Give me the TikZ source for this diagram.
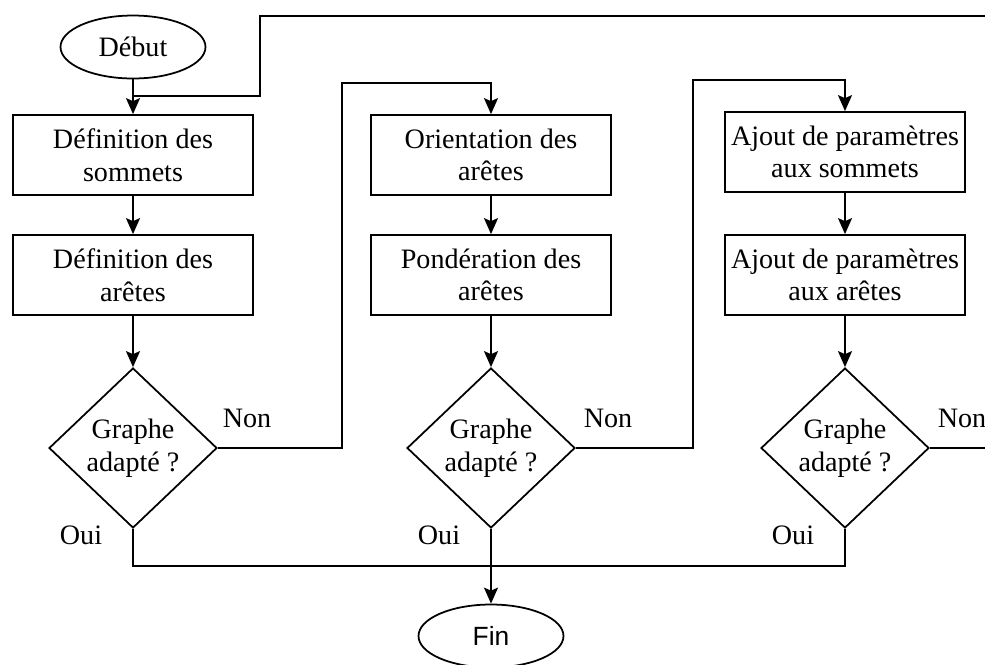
\documentclass[tikz,border=0pt]{standalone}
\usepackage{fontspec}
\setmainfont{Liberation Serif}
\newfontfamily\finfont{Liberation Sans}
\usetikzlibrary{shapes.geometric,arrows.meta}

\begin{document}
\begin{tikzpicture}[x=0.02cm, y=-0.02cm, line width=1pt,
		font=\fontsize{16}{18.5}\selectfont,
		boite/.style={draw, rectangle, minimum width=4.8cm, minimum height=1.6cm, inner sep=1pt, align=center},
		losange/.style={draw, diamond, minimum width=3.36cm, minimum height=3.2cm, inner sep=0pt, align=center},
		terminal/.style={draw, ellipse, minimum width=2.9cm, minimum height=1.26cm, inner sep=0pt},
		fleche/.style={-{Stealth[length=3.2mm, width=2.8mm, inset=0.6mm]}}]

		\useasboundingbox (0,0) rectangle (985,664);

		% colonne 1
		\node[terminal] (debut) at (133,47) {Début};
		\node[boite] (sommets) at (133,155) {Définition des\\sommets};
		\node[boite] (aretes) at (133,275) {Définition des\\arêtes};
		\node[losange] (test1) at (133,448) {Graphe\\adapté ?};

		% colonne 2
		\node[boite] (orient) at (491,155) {Orientation des\\arêtes};
		\node[boite] (ponder) at (491,275) {Pondération des\\arêtes};
		\node[losange] (test2) at (491,448) {Graphe\\adapté ?};
		\node[terminal, font=\finfont\fontsize{15}{18}\selectfont] (fin) at (491,636) {Fin};

		% colonne 3
		\node[boite] (parsom) at (845,152) {Ajout de paramètres\\aux sommets};
		\node[boite] (pararet) at (845,275) {Ajout de paramètres\\aux arêtes};
		\node[losange] (test3) at (845,448) {Graphe\\adapté ?};

		% etiquettes
		\node (non1) at (247,418) {Non};
		\node (non2) at (608,418) {Non};
		\node (non3) at (962,418) {Non};
		\node (oui1) at (81,535) {Oui};
		\node (oui2) at (439,535) {Oui};
		\node (oui3) at (793,535) {Oui};

		\coordinate (retour) at (985,16);
		\coordinate (entree) at (133,96);
		\coordinate (sortie) at (985,448);
		\coordinate (jonction) at (491,566);

		% liens
		\draw[fleche] (debut) -- (sommets);
		\draw (retour) -| (260,96) -- (entree);
		\draw[fleche] (sommets) -- (aretes);
		\draw[fleche] (aretes) -- (test1);
		\draw[fleche] (test1.east) -| (342,83) -| (orient.north);
		\draw[fleche] (orient) -- (ponder);
		\draw[fleche] (ponder) -- (test2);
		\draw[fleche] (test2.east) -| (693,80) -| (parsom.north);
		\draw[fleche] (parsom) -- (pararet);
		\draw[fleche] (pararet) -- (test3);
		\draw (test3.east) -- (sortie);
		\draw (test1.south) |- (jonction);
		\draw (test3.south) |- (jonction);
		\draw[fleche] (test2.south) -- (fin.north);

		\end{tikzpicture}
\end{document}
